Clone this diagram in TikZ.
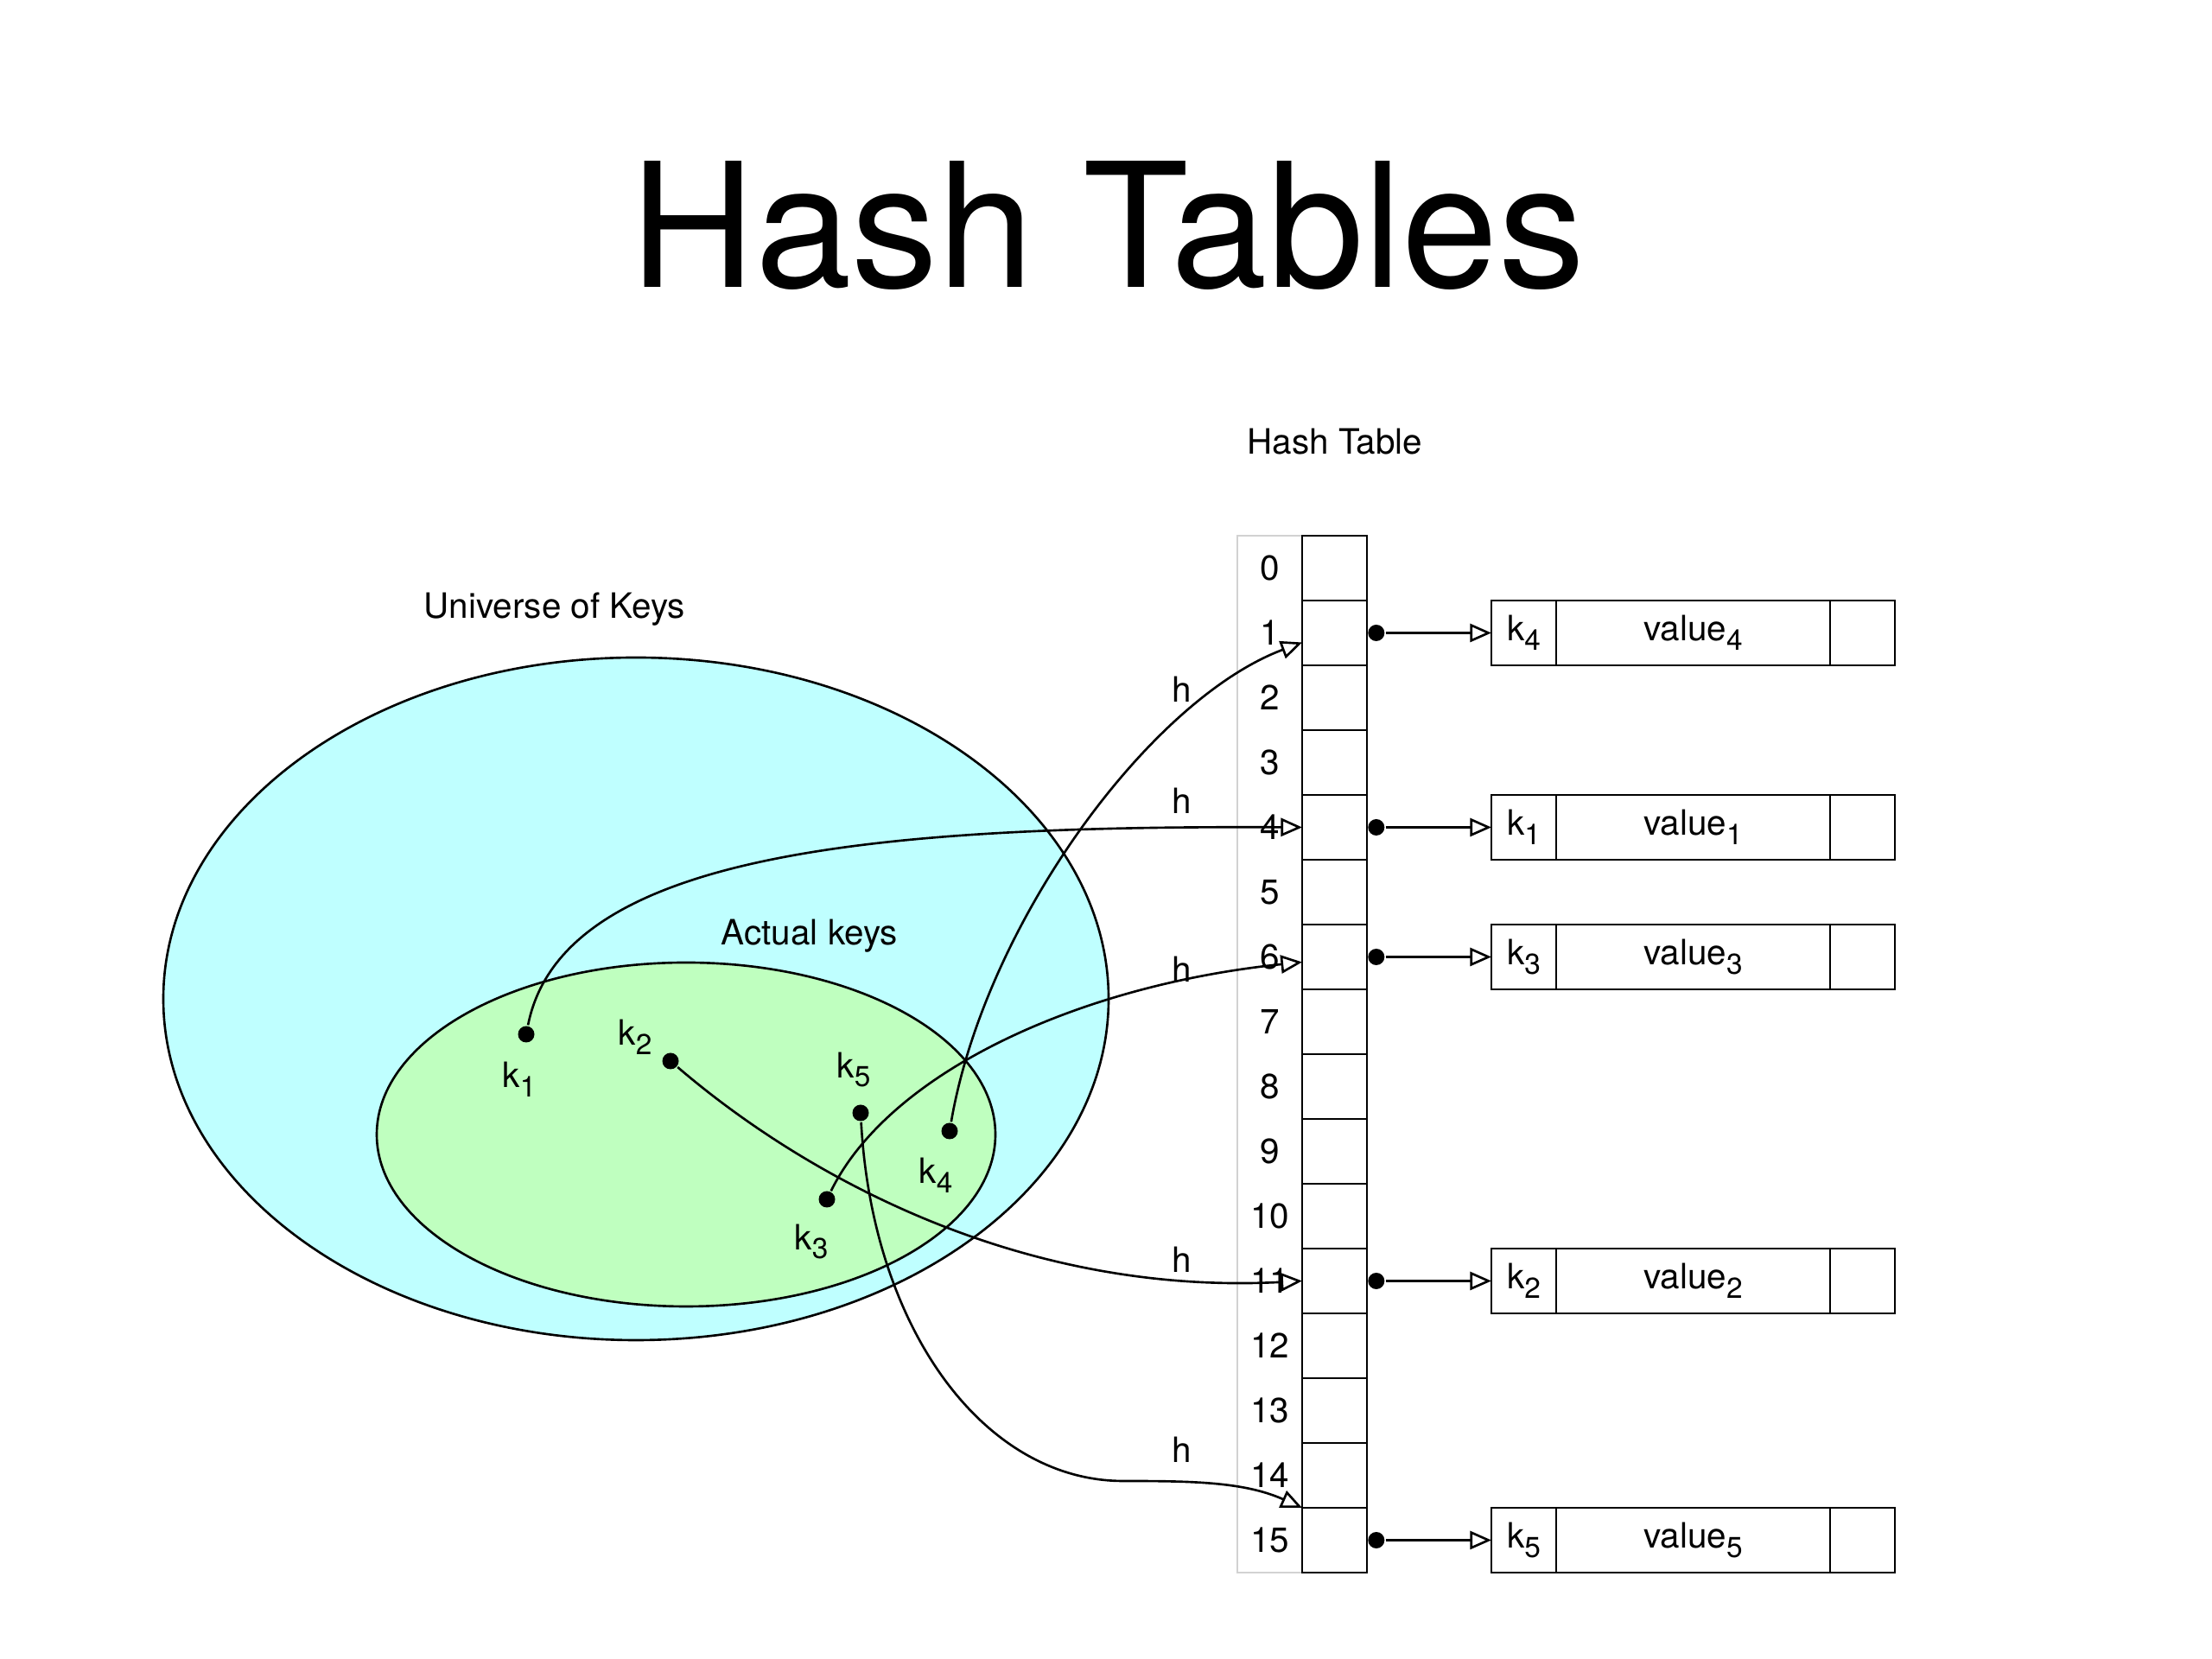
\documentclass[tikz,border=0pt]{standalone}
\usepackage{fontspec}
\setmainfont{TeX Gyre Heros}
\usepackage{tikz}
\usetikzlibrary{arrows.meta,positioning}
\definecolor{universe}{RGB}{191,255,255}
\definecolor{actual}{RGB}{191,255,191}
\newcommand{\ksub}[1]{\raisebox{-0.5ex}{\fontsize{9.5}{10}\selectfont #1}}
\tikzset{
  cell/.style={draw, minimum width=0.75cm, minimum height=0.75cm, inner sep=0pt, outer sep=0pt},
  keydot/.style={circle, fill, inner sep=0pt, minimum size=0.19cm},
  hasharrow/.style={-{Triangle[open, length=7pt, width=6pt]}}
}

\begin{document}
\begin{tikzpicture}[line width=0.75pt, every node/.style={font=\fontsize{11.5}{13}\selectfont}]
		\useasboundingbox (0,0) rectangle (25.6,19.2);
		%\draw[help lines] (0,0) grid (25,19);
		\node[font=\fontsize{57}{60}\selectfont, anchor=base] (title) at (12.82,15.87) {Hash Tables};
		% universe and actual keys
		\draw[fill=universe] (7.36,7.64) ellipse [x radius=5.47, y radius=3.95];
		\draw[fill=actual] (7.94,6.07) ellipse [x radius=3.58, y radius=1.99];
		\node (universe) at (6.42,12.15) {Universe of Keys};
		\node (actual) at (9.37,8.37) {Actual keys};
		% the table
		\draw[gray!35] (14.32,1.0) rectangle (15.07,13.0);
		\foreach \i in {0,...,15} {
			\node[cell] (c\i) at (15.445,12.625-0.75*\i) {};
			\node (n\i) at (14.695,12.625-0.75*\i) {\i};
		}
		\node (table) at (15.45,14.09) {Hash Table};
		\foreach \row/\key in {1/4,4/1,6/3,11/2,15/5} {
			\node[cell] (key\key) at (17.635,12.625-0.75*\row) {k\ksub{\key}};
			\node[cell, minimum width=3.17cm, right=0pt of key\key] (val\key) {value\ksub{\key}};
			\node[cell, right=0pt of val\key] (nxt\key) {};
			\node[keydot, right=0pt of c\row] (ptr\key) {};
			\draw[hasharrow] (ptr\key) -- (key\key);
		}
		% keys
		\node[keydot] (d1) at (6.09,7.23) {};
		\node[keydot] (d2) at (7.76,6.92) {};
		\node[keydot] (d3) at (9.57,5.32) {};
		\node[keydot] (d4) at (10.99,6.11) {};
		\node[keydot] (d5) at (9.96,6.32) {};
		\node (l1) at (6.01,6.71) {k\ksub{1}};
		\node (l2) at (7.35,7.20) {k\ksub{2}};
		\node (l3) at (9.39,4.83) {k\ksub{3}};
		\node (l4) at (10.83,5.60) {k\ksub{4}};
		\node (l5) at (9.88,6.82) {k\ksub{5}};
		% h arrows
		\coordinate (bend5) at (13.0,2.06);
		\draw[hasharrow] (d1) .. controls (6.5,9.3) and (10,9.65) .. (c4.west);
		\draw[hasharrow] (d4) .. controls (11.4,8.5) and (13.3,11.1) .. ([yshift=-0.11cm]c1.west);
		\draw[hasharrow] (d3) .. controls (10.3,6.8) and (12.5,7.8) .. ([yshift=-0.06cm]c6.west);
		\draw[hasharrow] (d2) .. controls (9.3,5.6) and (11.8,4.2) .. (c11.west);
		\draw[hasharrow] (d5) .. controls (10.1,3.8) and (11.4,2.06) .. (bend5) .. controls (13.8,2.06) and (14.4,2.05) .. (c15.north west);
		\node (h1) at (13.68,11.22) {h};
		\node (h4) at (13.68,9.93) {h};
		\node (h6) at (13.68,7.98) {h};
		\node (h11) at (13.68,4.62) {h};
		\node (h15) at (13.68,2.42) {h};
\end{tikzpicture}
\end{document}
